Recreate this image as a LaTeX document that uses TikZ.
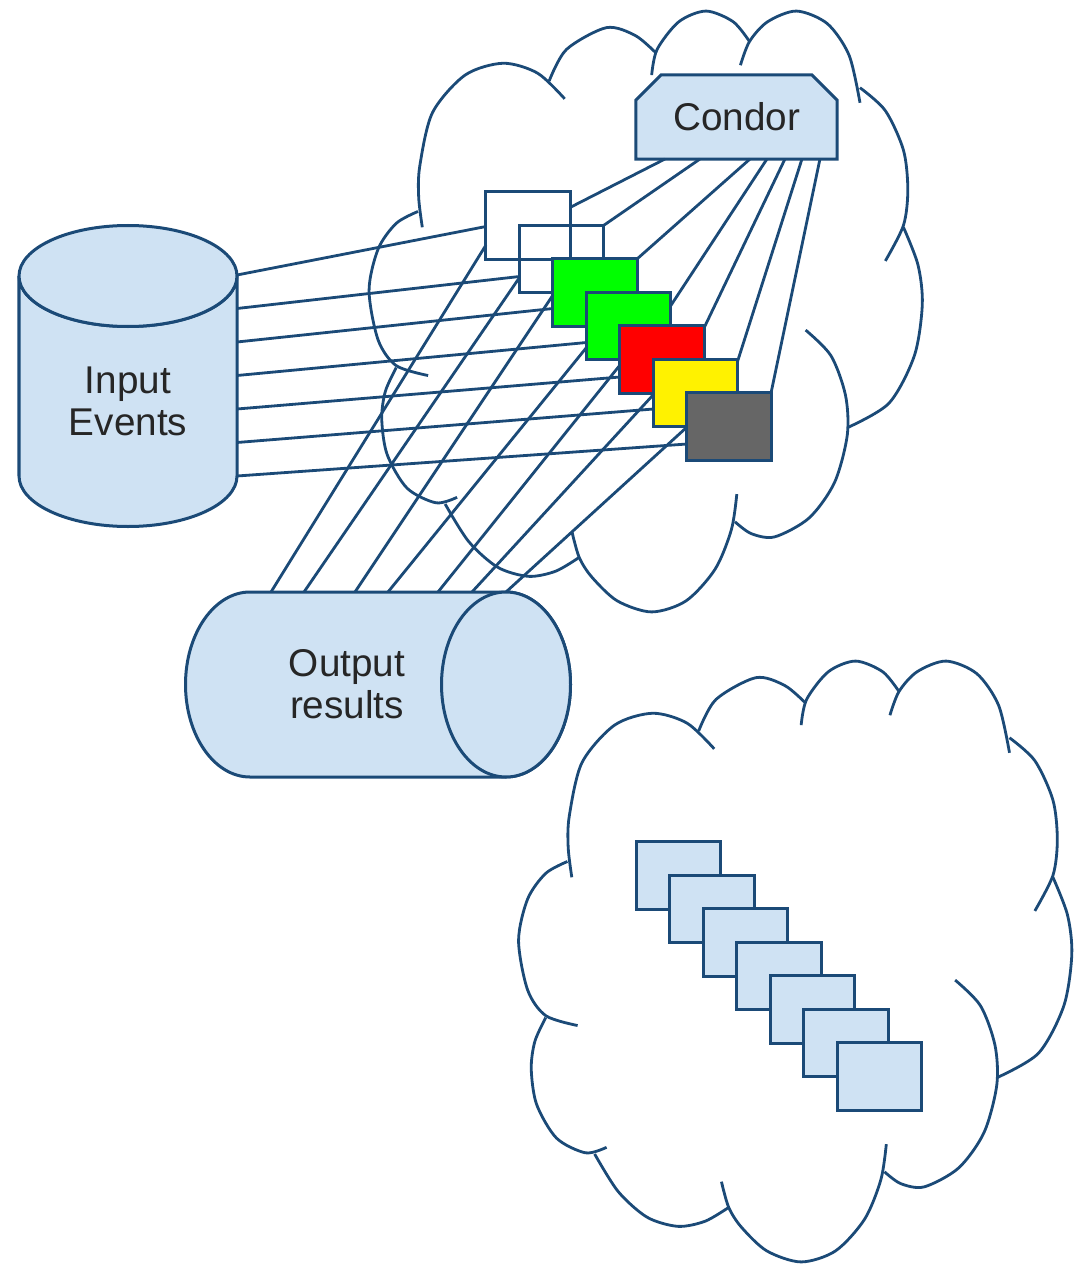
\documentclass[tikz,border=0pt]{standalone}
\usepackage{fontspec}
\setmainfont{Liberation Sans}
\usetikzlibrary{shapes.misc}
\definecolor{linkblue}{HTML}{1B4A77}
\definecolor{paleblue}{HTML}{CFE2F3}
\definecolor{jobgrey}{HTML}{666666}
\tikzset{
    lobe/.style={draw=linkblue, line width=.028cm},
    link/.style={draw=linkblue, line width=.028cm},
    drum/.style={draw=linkblue, fill=paleblue, line width=.03cm},
    label/.style={align=center, text=black!85, font=\fontsize{11}{12}\selectfont},
    jobbox/.style={rectangle, draw=linkblue, line width=.03cm, inner sep=0pt, outer sep=0pt,
        minimum width=.84cm, minimum height=.67cm},
    pics/netcloud/.style={code={
        \begin{scope}[xscale=0.3623, yscale=0.3953]
            \draw[lobe] plot[smooth] coordinates {(172,575) (162,500) (165,420) (200,285) (290,190) (395,160) (490,185) (565,250)};
            \draw[lobe] plot[smooth] coordinates {(522,205) (570,125) (680,70) (760,90) (818,135)};
            \draw[lobe] plot[smooth] coordinates {(805,190) (820,125) (880,55) (955,28) (1030,55) (1075,105)};
            \draw[lobe] plot[smooth] coordinates {(1050,165) (1075,105) (1125,55) (1205,28) (1290,60) (1350,140) (1380,260)};
            \draw[lobe] plot[smooth] coordinates {(1380,222) (1450,280) (1500,380) (1512,480) (1500,570) (1450,660)};
            \draw[lobe] plot[smooth] coordinates {(1500,575) (1540,670) (1552,770) (1530,900) (1460,1020) (1345,1082)};
            \draw[lobe] plot[smooth] coordinates {(1230,835) (1300,900) (1340,1000) (1345,1100) (1310,1220) (1240,1310) (1145,1358) (1080,1350) (1035,1320)};
            \draw[lobe] plot[smooth] coordinates {(1040,1250) (1025,1340) (980,1440) (900,1520) (805,1548) (710,1520) (640,1460) (605,1410) (585,1345)};
            \draw[lobe] plot[smooth] coordinates {(605,1410) (540,1445) (465,1458) (380,1435) (300,1370) (235,1275)};
            \draw[lobe] plot[smooth] coordinates {(268,1258) (210,1272) (130,1235) (75,1150) (60,1060) (70,990) (100,930)};
            \draw[lobe] plot[smooth] coordinates {(188,950) (100,925) (50,860) (25,735) (50,630) (100,565) (160,535)};
        \end{scope}
    }},
}
\begin{document}
\begin{tikzpicture}[x=0.01cm, y=-0.01cm]
    \useasboundingbox (0,0) rectangle (1078,1273);

    % Clouds
    \pic at (360,0) {netcloud};
    \pic at (509.5,650) {netcloud};

    % Input drum
    \draw[drum] (19,276) -- (19,476) arc (180:0:109 and 50.5) -- (237,276) arc (0:180:109 and 50.5) -- cycle;
    \draw[drum] (128,276) ellipse (109 and 50.5);
    \node[label] (input) at (128,401) {Input\\Events};

    % Output drum
    \draw[drum] (250,592) -- (506,592) arc (-90:90:64.5 and 92.5) -- (250,777) arc (90:270:64.5 and 92.5) -- cycle;
    \draw[drum] (506,684.5) ellipse (64.5 and 92.5);
    \node[label] (output) at (347,684) {Output\\results};

    % Condor box
    \node[label, draw=linkblue, fill=paleblue, line width=.03cm, shape=chamfered rectangle,
        chamfered rectangle corners={north west, north east},
        chamfered rectangle xsep=.13cm, chamfered rectangle ysep=.12cm,
        inner sep=0pt, outer sep=0pt, minimum width=2.01cm, minimum height=.84cm] (condor) at (736.5,117) {Condor};

    % Jobs in the upper cloud
    \foreach \i/\col in {1/none, 2/none, 3/green, 4/green, 5/red, 6/yellow, 7/jobgrey}
        \node[jobbox, fill=\col] (job\i) at ({528+33.5*(\i-1)},{225.5+33.5*(\i-1)}) {};

    % Jobs in the lower cloud
    \foreach \i in {1,...,7}
        \node[jobbox, fill=paleblue] (slot\i) at ({678.5+33.5*(\i-1)},{875.5+33.5*(\i-1)}) {};

    % Links to input
    \foreach \i/\dy in {1/1, 2/17.5, 3/16, 4/16.5, 5/17.5, 6/16, 7/17.5} {
        \coordinate (in\i) at (237,{275+33.5*(\i-1)});
        \draw[link] (in\i) -- ([yshift=-\dy*0.01cm]job\i.west);
    }

    % Links to output
    \foreach \i/\sx/\dy in {1/271/14, 2/304/15, 3/355/31, 4/388/12, 5/438/28, 6/472/32, 7/506/33} {
        \coordinate (out\i) at (\sx,592);
        \draw[link] (out\i) -- ([yshift=\dy*0.01cm]job\i.south west);
    }

    % Links to condor
    \foreach \i/\dx/\dy in {1/29/15.5, 2/64/0, 3/114/0, 4/131/13.5, 5/149/2, 6/166/2, 7/184/0}
        \draw[link] ([xshift=\dx*0.01cm]condor.south west) -- ([yshift=-\dy*0.01cm]job\i.north east);
\end{tikzpicture}
\end{document}
